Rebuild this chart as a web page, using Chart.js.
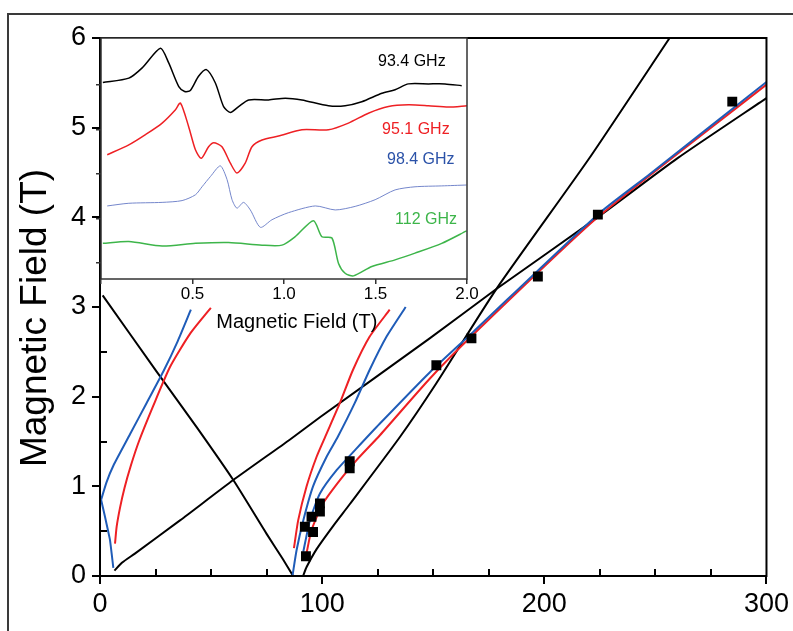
<!DOCTYPE html>
<html>
<head>
<meta charset="utf-8">
<script src="https://cdn.jsdelivr.net/npm/chart.js@4.4.1/dist/chart.umd.min.js"></script>
<style>
body{margin:0;background:#fff;}
#wrap{position:relative;width:793px;height:631px;overflow:hidden;}
#main{position:absolute;left:0;top:0;}
#inset{position:absolute;left:40px;top:30px;}
</style>
</head>
<body>
<div id="wrap">
<canvas id="main" width="793" height="631"></canvas>
<canvas id="inset" width="440" height="310"></canvas>
</div>
<script>
// main plot: frequency (GHz) vs resonance field (T)
const xMinorTicks=[25,50,75,125,150,175,225,250,275];
const yMinorTicks=[0.5,1.5,2.5,3.5,4.5,5.5];

const dataF=[92.7,92.2,95.9,95.2,99,99,112.4,112.4,151.4,167.2,197.1,224.1,284.6];
const dataB=[0.22,0.55,0.49,0.66,0.72,0.81,1.20,1.28,2.35,2.65,3.34,4.03,5.29];

const blackDownF=[1.2,25.5,43.5,60,75,82,86.9];
const blackDownB=[3.13,2.28,1.66,1.07,0.47,0.2,0.0];
const blackLowF=[6.5,10,15.7,36,60,85.4,99,148.4,178.4,224,260,300];
const blackLowB=[0.06,0.15,0.25,0.62,1.07,1.52,1.77,2.65,3.20,4.00,4.66,5.33];
const blackSteepF=[91.4,93,97.5,105,112.4,135,151.4,178.4,220,256.4];
const blackSteepB=[0,0.1,0.3,0.56,0.8,1.55,2.15,3.2,4.65,6.0];

const blueDipF=[0.5,2.25,3.75,4.5,5.25,6.0];
const blueDipB=[0.85,0.66,0.49,0.40,0.25,0.09];
const blueLeftF=[0.5,3,6,13.5,21,28.5,35,40.9];
const blueLeftB=[0.85,1.05,1.23,1.58,1.93,2.28,2.62,2.97];
const redLeftF=[6.75,7.5,9,11,14,17.5,24,31.5,40.5,49.9];
const redLeftB=[0.36,0.55,0.76,0.98,1.24,1.5,1.9,2.33,2.70,2.99];

const redUpF=[87.3,89.2,93,97.5,101.5,108,113.9,121.4,130.4];
const redUpB=[0.31,0.62,1.0,1.33,1.56,1.93,2.30,2.67,2.97];
const blueUpF=[86.7,88.5,91.5,95.9,102,107,114.7,121.4,129,137.6];
const blueUpB=[0.01,0.29,0.62,1.0,1.33,1.55,1.93,2.30,2.67,3.0];

const blueLowF=[91.5,94.5,99,106.5,115.4,126,148.4,167.9,224,247.4,300];
const blueLowB=[0.27,0.62,0.92,1.18,1.42,1.70,2.27,2.72,4.03,4.48,5.51];
const redLowF=[92.7,95.2,100.4,108,115.4,126,148.4,167.9,224,300];
const redLowB=[0.22,0.51,0.81,1.07,1.29,1.57,2.20,2.69,4.00,5.48];

// inset: EPR traces, field (T) vs signal (offset, a.u.)
const insetXTicks=[0,0.5,1.0,1.5,2.0];
const insetYTicks=[0,1,2,3,4];

const t934B=[0.010,0.152,0.225,0.325,0.370,0.425,0.457,0.488,0.533,0.576,0.625,0.670,0.707,0.752,0.807,0.916,1.007,1.098,1.243,1.334,1.425,1.535,1.607,1.680,1.789,1.880,1.971];
const t934Y=[4.05,4.15,4.38,4.82,4.49,3.96,3.85,3.87,4.19,4.34,4.04,3.51,3.38,3.51,3.66,3.66,3.70,3.66,3.53,3.53,3.62,3.81,3.89,4.02,4.02,4.02,3.98];

const t951B=[0.034,0.152,0.243,0.334,0.407,0.434,0.479,0.516,0.548,0.588,0.616,0.661,0.707,0.743,0.788,0.825,0.880,0.970,1.098,1.243,1.352,1.461,1.571,1.680,1.789,1.898,2.0];
const t951Y=[2.43,2.65,2.88,3.14,3.44,3.59,3.06,2.54,2.35,2.61,2.70,2.61,2.24,2.02,2.24,2.61,2.76,2.85,2.99,2.99,3.14,3.36,3.51,3.55,3.53,3.50,3.53];

const t984B=[0.034,0.152,0.334,0.443,0.516,0.552,0.598,0.652,0.689,0.716,0.743,0.779,0.816,0.871,0.934,1.025,1.171,1.280,1.389,1.498,1.607,1.716,1.862,1.998];
const t984Y=[1.28,1.34,1.36,1.40,1.53,1.71,1.94,2.18,1.87,1.42,1.23,1.36,1.19,0.80,0.97,1.13,1.28,1.19,1.27,1.42,1.64,1.71,1.73,1.75];

const t112B=[0.010,0.152,0.334,0.516,0.697,0.880,0.989,1.061,1.161,1.207,1.262,1.298,1.334,1.380,1.480,1.607,1.716,1.862,1.998];
const t112Y=[0.44,0.48,0.38,0.44,0.46,0.40,0.40,0.59,0.95,0.59,0.56,-0.01,-0.23,-0.29,-0.08,0.07,0.22,0.44,0.72];

const traceLabels=['93.4 GHz','95.1 GHz','98.4 GHz','112 GHz'];
const traceLabelB=[1.514,1.536,1.563,1.607];
const traceLabelY=[4.52,2.99,2.31,0.97];

const FONT='"Liberation Sans", Arial, sans-serif';
const RED='#ee2024';
const BLUE='#1f5cb8';
const GREEN='#3db54a';
const LIGHTBLUE='#7587cc';
const traceColors=['#000',RED,'#2b52a8',GREEN];

function pts(xs,ys){return xs.map((v,i)=>({x:v,y:ys[i]}));}
function curve(xs,ys,color,w){
return {data:pts(xs,ys),showLine:true,borderColor:color,borderWidth:w,pointRadius:0,fill:false,tension:0.2};
}

const mainDecor={
id:'mainDecor',
beforeDraw(chart){
const ctx=chart.ctx;
ctx.save();
ctx.fillStyle='#fff';
ctx.fillRect(0,0,chart.width,chart.height);
ctx.strokeStyle='#3a3a3a';
ctx.lineWidth=2;
ctx.strokeRect(8,14,900,800);
ctx.restore();
},
afterDraw(chart){
const ctx=chart.ctx;
const a=chart.chartArea;
const x=chart.scales.x;
const y=chart.scales.y;
ctx.save();
ctx.strokeStyle='#000';
ctx.lineWidth=2;
ctx.beginPath();
xMinorTicks.forEach(v=>{
const px=Math.round(x.getPixelForValue(v));
ctx.moveTo(px,a.bottom);
ctx.lineTo(px,a.bottom-7);
});
yMinorTicks.forEach(v=>{
const py=Math.round(y.getPixelForValue(v));
ctx.moveTo(a.left,py);
ctx.lineTo(a.left+7,py);
});
ctx.stroke();
ctx.strokeRect(a.left,a.top,a.width,a.height);
// y axis title
ctx.translate(36,(a.top+a.bottom)/2+11);
ctx.rotate(-Math.PI/2);
ctx.fillStyle='#000';
ctx.font='37px '+FONT;
ctx.textAlign='center';
ctx.textBaseline='middle';
ctx.fillText('Magnetic Field (T)',0,0);
ctx.restore();
}
};

new Chart(document.getElementById('main'),{
type:'scatter',
data:{
datasets:[
{data:pts(dataF,dataB),pointStyle:'rect',pointRadius:7,pointBackgroundColor:'#000',pointBorderColor:'#000',pointBorderWidth:0,showLine:false},
curve(blueDipF,blueDipB,BLUE,2),
curve(blueLeftF,blueLeftB,BLUE,2),
curve(blueUpF,blueUpB,BLUE,2),
curve(blueLowF,blueLowB,BLUE,2),
curve(redLeftF,redLeftB,RED,2),
curve(redUpF,redUpB,RED,2),
curve(redLowF,redLowB,RED,2),
curve(blackDownF,blackDownB,'#000',2),
curve(blackLowF,blackLowB,'#000',2),
curve(blackSteepF,blackSteepB,'#000',2)
]
},
options:{
responsive:false,
animation:false,
layout:{padding:{left:0,right:26,top:38,bottom:0}},
plugins:{legend:{display:false},tooltip:{enabled:false}},
scales:{
x:{
type:'linear',min:0,max:300,
afterFit(s){s.height=55;},
ticks:{stepSize:100,color:'#000',font:{size:27,family:FONT},padding:4,maxRotation:0},
grid:{drawOnChartArea:false,tickLength:8,color:'#000',lineWidth:2},
border:{display:true,color:'#000',width:2}
},
y:{
type:'linear',min:0,max:6,
afterFit(s){s.width=100;},
ticks:{stepSize:1,color:'#000',font:{size:27,family:FONT},padding:6},
grid:{drawOnChartArea:false,tickLength:8,color:'#000',lineWidth:2},
border:{display:true,color:'#000',width:2}
}
}
},
plugins:[mainDecor]
});

const insetDecor={
id:'insetDecor',
beforeDraw(chart){
const ctx=chart.ctx;
const a=chart.chartArea;
ctx.save();
ctx.fillStyle='#fff';
ctx.fillRect(a.left,a.top,a.width,a.height);
ctx.restore();
},
afterDraw(chart){
const ctx=chart.ctx;
const a=chart.chartArea;
const x=chart.scales.x;
const y=chart.scales.y;
ctx.save();
ctx.strokeStyle='#333';
ctx.lineWidth=1.5;
ctx.strokeRect(a.left,a.top,a.width,a.height);
ctx.font='16px '+FONT;
ctx.textBaseline='middle';
ctx.textAlign='left';
traceLabels.forEach((t,i)=>{
ctx.fillStyle=traceColors[i];
ctx.fillText(t,x.getPixelForValue(traceLabelB[i]),y.getPixelForValue(traceLabelY[i]));
});
ctx.fillStyle='#000';
ctx.font='20px '+FONT;
ctx.textAlign='center';
ctx.fillText('Magnetic Field (T)',x.getPixelForValue(1.07),a.bottom+43);
ctx.restore();
}
};

new Chart(document.getElementById('inset'),{
type:'scatter',
data:{
datasets:[
{data:pts(t934B,t934Y),showLine:true,borderColor:'#000',borderWidth:1.5,pointRadius:0,tension:0.25},
{data:pts(t951B,t951Y),showLine:true,borderColor:RED,borderWidth:1.5,pointRadius:0,tension:0.25},
{data:pts(t984B,t984Y),showLine:true,borderColor:LIGHTBLUE,borderWidth:1,pointRadius:0,tension:0.25},
{data:pts(t112B,t112Y),showLine:true,borderColor:GREEN,borderWidth:1.5,pointRadius:0,tension:0.25}
]
},
options:{
responsive:false,
animation:false,
layout:{padding:{left:0,right:13,top:8,bottom:0}},
plugins:{legend:{display:false},tooltip:{enabled:false}},
scales:{
x:{
type:'linear',min:0,max:2,
afterFit(s){s.height=61;},
afterBuildTicks(s){s.ticks=insetXTicks.map(v=>({value:v}));},
ticks:{color:'#000',font:{size:17,family:FONT},padding:0,maxRotation:0,
callback:v=>v===0?'':v.toFixed(1)},
grid:{drawOnChartArea:false,tickLength:5,color:'#333',lineWidth:1.5},
border:{display:false}
},
y:{
type:'linear',min:-0.36,max:5.05,
afterFit(s){s.width=61;},
afterBuildTicks(s){s.ticks=insetYTicks.map(v=>({value:v}));},
ticks:{display:false},
grid:{drawOnChartArea:false,tickLength:5,color:'#333',lineWidth:1.5},
border:{display:false}
}
}
},
plugins:[insetDecor]
});
</script>
</body>
</html>
